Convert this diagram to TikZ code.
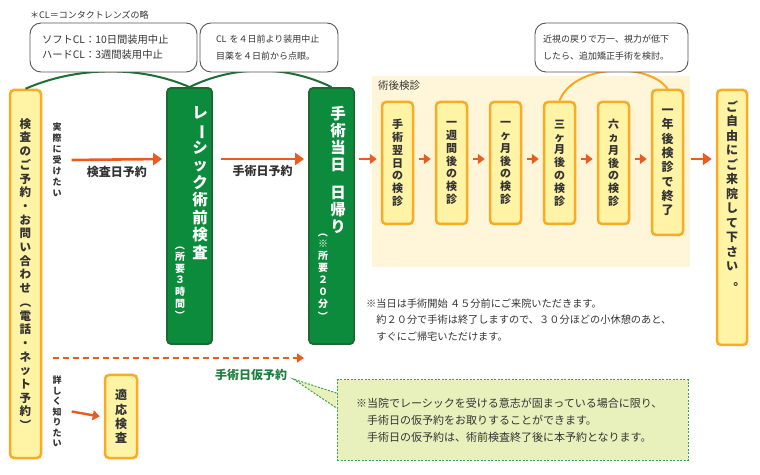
\documentclass[tikz,border=0pt]{standalone}
\usepackage{fontspec}
\setmainfont{Noto Sans CJK JP}
\usetikzlibrary{arrows.meta,positioning,calc}

\definecolor{arrorange}{HTML}{EA5B22}
\definecolor{boxorange}{HTML}{F7AC24}
\definecolor{boxyellow}{HTML}{FFF3A6}
\definecolor{opegreen}{HTML}{0B8B3B}
\definecolor{opeborder}{HTML}{1C6A31}
\definecolor{arcgreen}{HTML}{1F6E35}
\definecolor{arcorange}{HTML}{F6A81F}
\definecolor{areabeige}{HTML}{FFF6DA}
\definecolor{notegreen}{HTML}{E8F0BC}
\definecolor{dashgreen}{HTML}{3FA34D}
\definecolor{labelgreen}{HTML}{1E7F3F}
\definecolor{bubblegray}{HTML}{555555}
\definecolor{textgray}{HTML}{333333}

% rotated glyphs for vertical writing
\newcommand\tatebar{\makebox[1em]{\smash{\rotatebox[origin=c]{-90}{ー}}}}
\newcommand\tatelp{\makebox[1em]{\smash{\rotatebox[origin=c]{-90}{（}}}}
\newcommand\taterp{\makebox[1em]{\smash{\rotatebox[origin=c]{-90}{）}}}}
\newcommand\tatemaru{\makebox[1em]{\smash{\rotatebox[origin=c]{180}{。}}}}
\newcommand\tatesize[2]{\fontsize{#1}{#2}\selectfont\bfseries}

\tikzset{
  ybox/.style={draw=boxorange, line width=2.5pt, fill=boxyellow, rounded corners=4pt,
    inner sep=0pt, align=center, text=textgray},
  gbox/.style={draw=opeborder, line width=1.8pt, fill=opegreen, rounded corners=4pt, inner sep=0pt},
  gtxt/.style={align=center, inner sep=0pt, text=white},
  vlabel/.style={align=center, inner sep=0pt, text=textgray},
  bubble/.style={draw=bubblegray, line width=0.9pt, fill=white, rounded corners=11pt,
    minimum height=49pt, align=left, text=textgray},
  oarrow/.style={draw=arrorange, line width=2.6pt, -{Triangle[length=9pt,width=12pt]}},
  sarrow/.style={draw=arrorange, line width=2.4pt, -{Triangle[length=7pt,width=10pt]}},
  darrow/.style={draw=arrorange, line width=2pt, dash pattern=on 6pt off 4pt,
    -{Triangle[length=7pt,width=9pt]}},
  garc/.style={draw=arcgreen, line width=2pt},
  oarc/.style={draw=arcorange, line width=2pt},
  flowlabel/.style={inner sep=0pt, font=\fontsize{12}{14}\selectfont\bfseries, text=textgray},
  callout/.style={draw=dashgreen, fill=notegreen, line width=1pt, dash pattern=on 2pt off 1.5pt,
    minimum width=351pt, minimum height=80pt, inner xsep=19pt, text width=313pt, align=left,
    font=\fontsize{11}{17}\selectfont, text=textgray}
}

\begin{document}
\begin{tikzpicture}[x=1pt,y=1pt]
  \useasboundingbox (0,0) rectangle (760,474);
  \coordinate (flowline) at (0,315);

  % post-op area
  \node[fill=areabeige, minimum width=318pt, minimum height=191pt, inner sep=0pt] (kenshin) at (531,302.5) {};
  \node[anchor=north west, inner sep=0pt, font=\fontsize{10.5}{12}\selectfont, text=textgray]
    (kenshinlabel) at ([xshift=6pt,yshift=-5pt]kenshin.north west) {術後検診};

  % main flow
  \node[ybox, minimum width=31pt, minimum height=368pt, font=\tatesize{11.5}{13.7}] (yoyaku) at (25.5,200)
    {検\\査\\の\\ご\\予\\約\\・\\お\\問\\い\\合\\わ\\せ\\\tatelp\\電\\話\\・\\ネ\\ッ\\ト\\予\\約\\\taterp};
  \node[vlabel, font=\tatesize{9}{11}] (jissai) at (57,314) {実\\際\\に\\受\\け\\た\\い};

  \node[gbox, minimum width=45pt, minimum height=256pt] (kensa) at (189.5,258) {};
  \node[gtxt, font=\tatesize{15.5}{17.5}] (kensamain) at (200,291) {レ\\\tatebar\\シ\\ッ\\ク\\術\\前\\検\\査};
  \node[gtxt, font=\tatesize{10}{11.7}] (kensasub) at (180,190) {\tatelp\\所\\要\\３\\時\\間\\\taterp};

  \node[gbox, minimum width=45pt, minimum height=256pt] (shujutsu) at (331.5,258) {};
  \node[gtxt, font=\tatesize{15.5}{17}] (shujutsumain) at (338,304) {手\\術\\当\\日\\[11pt]日\\帰\\り};
  \node[gtxt, font=\tatesize{10}{12}] (shujutsusub) at (323,196) {\tatelp\\※\\所\\要\\２\\０\\分\\\taterp};

  \node[ybox, minimum width=31pt, minimum height=122pt, font=\tatesize{11}{12.8}] (yokujitsu) at (397.5,311) {手\\術\\翌\\日\\の\\検\\診};
  \node[ybox, minimum width=31pt, minimum height=122pt, font=\tatesize{11}{12.8}] (isshukan) at (451.5,311) {一\\週\\間\\後\\の\\検\\診};
  \node[ybox, minimum width=31pt, minimum height=122pt, font=\tatesize{11}{12.8}] (ikkagetsu) at (505.5,311) {一\\ヶ\\月\\後\\の\\検\\診};
  \node[ybox, minimum width=31pt, minimum height=122pt, font=\tatesize{11}{12.8}] (sankagetsu) at (559.5,311) {三\\ヶ\\月\\後\\の\\検\\診};
  \node[ybox, minimum width=31pt, minimum height=122pt, font=\tatesize{11}{12.8}] (rokkagetsu) at (613.5,311) {六\\ヵ\\月\\後\\の\\検\\診};
  \node[ybox, minimum width=31pt, minimum height=145pt, font=\tatesize{12}{14.3}] (ichinen) at (667.5,311.5) {一\\年\\後\\検\\診\\で\\終\\了};

  \node[ybox, minimum width=30pt, minimum height=255pt] (raiin) at (732,256.5) {};
  \node[vlabel, font=\tatesize{12}{14.5}] (raiintext) at (732,281) {ご\\自\\由\\に\\ご\\来\\院\\し\\て\\下\\さ\\い\\\tatemaru};

  % arcs to the notes
  \draw[garc] (yoyaku.north) .. controls +(50,22) and +(-50,22) .. (kensa.north);
  \draw[garc] (kensa.north) .. controls +(45,22) and +(-45,22) .. (shujutsu.north);
  \draw[oarc] (sankagetsu.north) .. controls +(15,38) and +(-18,26) .. (ichinen.north);

  \node[anchor=west, inner sep=0pt, font=\fontsize{9}{11}\selectfont, text=textgray] (clnote) at (30,459) {＊CL＝コンタクトレンズの略};
  \node[bubble, inner xsep=12pt, text width=143pt, font=\fontsize{10.3}{15}\selectfont] (bubbleA) at (113.5,426.5)
    {ソフトCL：10日間装用中止\\ハードCL：3週間装用中止};
  \node[bubble, inner xsep=16pt, text width=106pt, font=\fontsize{9}{17}\selectfont] (bubbleB) at (269,426.5)
    {CL~を４日前より装用中止\\目薬を４日前から点眼。};
  \node[bubble, inner xsep=8pt, text width=137pt, font=\fontsize{9}{17}\selectfont] (bubbleC) at (611.5,426.5)
    {近視の戻りで万一、視力が低下\\したら、追加矯正手術を検討。};

  % arrows
  \draw[oarrow] ($(jissai.east)+(10,0)$) -- ($(kensa.west |- flowline)+(-4,0)$)
    node[midway, below=5pt, flowlabel] (kensabi) {検査日予約};
  \draw[oarrow] ($(kensa.east |- flowline)+(8,0)$) -- ($(shujutsu.west |- flowline)+(-4,0)$)
    node[midway, below=5pt, flowlabel] (shujutsubi) {手術日予約};
  \draw[sarrow] ($(shujutsu.east |- flowline)+(4,0)$) -- ($(yokujitsu.west |- flowline)+(-4,0)$);
  \foreach \a/\b in {yokujitsu/isshukan, isshukan/ikkagetsu, ikkagetsu/sankagetsu,
                     sankagetsu/rokkagetsu, rokkagetsu/ichinen}
    \draw[sarrow] ($(\a.east |- flowline)+(5,0)$) -- ($(\b.west |- flowline)+(-4,0)$);
  \draw[oarrow] ($(ichinen.east |- flowline)+(7,0)$) -- ($(raiin.west |- flowline)+(-4,0)$);

  \node[anchor=west, align=left, inner sep=0pt, font=\fontsize{10.2}{16.5}\selectfont, text=textgray] (tojitsu) at (366,154)
    {※当日は手術開始 ４５分前にご来院いただきます。\\
     \hspace*{1em}約２０分で手術は終了しますので、３０分ほどの小休憩のあと、\\
     \hspace*{1em}すぐにご帰宅いただけます。};

  % provisional booking
  \coordinate (karitip) at (304,116);
  \draw[darrow] ($(yoyaku.east |- karitip)+(11,0)$) -- (karitip);
  \node[inner sep=0pt, font=\fontsize{12}{14}\selectfont\bfseries, text=labelgreen] (karilabel) at (251,99) {手術日仮予約};
  \node[callout] (karinote) at (512.5,54)
    {※当院でレーシックを受ける意志が固まっている場合に限り、\\
     \hspace*{1em}手術日の仮予約をお取りすることができます。\\
     \hspace*{1em}手術日の仮予約は、術前検査終了後に本予約となります。};
  \coordinate (ptip) at ($(karilabel.east)+(6,-4)$);
  \fill[notegreen] (ptip) -- ([yshift=27pt]karinote.west) -- ([yshift=12pt]karinote.west) -- cycle;
  \draw[dashgreen, line width=1pt, dash pattern=on 2pt off 1.5pt]
    ([yshift=27pt]karinote.west) -- (ptip) -- ([yshift=12pt]karinote.west);

  % details first
  \node[vlabel, font=\tatesize{9}{10.5}] (kuwashiku) at (57,62.5) {詳\\し\\く\\知\\り\\た\\い};
  \node[ybox, minimum width=32pt, minimum height=83pt, font=\tatesize{12}{14.3}] (tekio) at (121,57.5) {適\\応\\検\\査};
  \draw[sarrow] ($(kuwashiku.east)+(10,0)$) -- ($(tekio.west)+(-4,0)$);
\end{tikzpicture}
\end{document}
